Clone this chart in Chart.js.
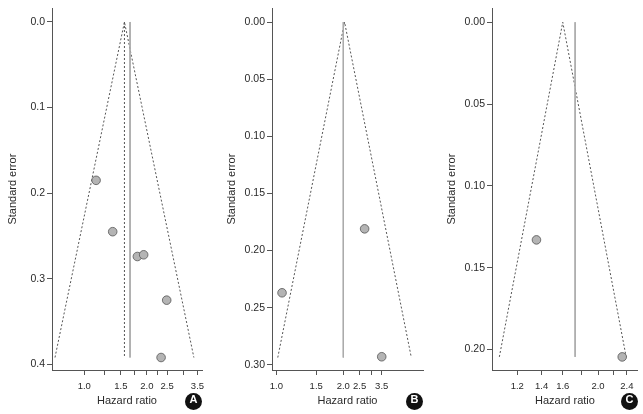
<!DOCTYPE html>
<html>
<head>
<meta charset="utf-8">
<script src="https://cdn.jsdelivr.net/npm/chart.js@4.4.1/dist/chart.umd.min.js"></script>
<style>
  html, body { margin: 0; padding: 0; background: #fff; }
  #wrap { position: relative; width: 643px; height: 414px; overflow: hidden; }
  .panel { position: absolute; top: 0; }
  .badge {
    position: absolute; width: 17px; height: 17px; border-radius: 50%;
    background: #111; color: #fff; text-align: center; line-height: 17px;
    font: bold 11px "Liberation Sans", Arial, sans-serif;
  }
</style>
</head>
<body>
<div id="wrap">
  <canvas class="panel" id="chartA" width="215" height="414" style="left:0"></canvas>
  <canvas class="panel" id="chartB" width="215" height="414" style="left:215px"></canvas>
  <canvas class="panel" id="chartC" width="213" height="414" style="left:430px"></canvas>
  <div class="badge" style="left:185px;top:393px">A</div>
  <div class="badge" style="left:406px;top:393px">B</div>
  <div class="badge" style="left:621px;top:393px">C</div>
</div>
<script>
// Panel A: hazard ratio and standard error of each study
const hrA = [1.14, 1.37, 1.80, 1.93, 2.49, 2.34];
const seA = [0.185, 0.245, 0.274, 0.272, 0.325, 0.392];
const centerA = 1.56;   // funnel centre (dotted line)
const summaryA = 1.66;  // solid line
const seMaxA = 0.392;
const xRangeA = [0.70, 3.68];
const yRangeA = [-0.016, 0.4066];
const xTicksA = [1.0, 1.25, 1.5, 1.75, 2.0, 2.25, 2.5, 3.0, 3.5];
const xLabelsA = ['1.0', '', '1.5', '', '2.0', '', '2.5', '', '3.5'];
const yTicksA = [0, 0.1, 0.2, 0.3, 0.4];

// Panel B
const hrB = [2.14, 1.05, 2.48];
const seB = [0.181, 0.237, 0.293];
const centerB = 1.80;
const summaryB = 1.78;
const seMaxB = 0.2937;
const xRangeB = [0.963, 3.54];
const yRangeB = [-0.0121, 0.3046];
const xTicksB = [1.0, 1.41, 1.78, 2.05, 2.27, 2.48];
const xLabelsB = ['1.0', '1.5', '2.0', '2.5', '', '3.5'];
const yTicksB = [0, 0.05, 0.10, 0.15, 0.20, 0.25, 0.30];

// Panel C
const hrC = [1.355, 2.33];
const seC = [0.133, 0.2045];
const centerC = 1.60;
const summaryC = 1.73;
const seMaxC = 0.2045;
const xRangeC = [1.023, 2.573];
const yRangeC = [-0.0085, 0.2125];
const xTicksC = [1.2, 1.4, 1.6, 1.8, 2.0, 2.2, 2.4];
const xLabelsC = ['1.2', '1.4', '1.6', '', '2.0', '', '2.4'];
const yTicksC = [0, 0.05, 0.10, 0.15, 0.20];

const FONT = '"Liberation Sans", Arial, Helvetica, sans-serif';
const AXIS = '#555';
const TEXT = '#2a2a2a';

function makePanel(id, p) {
    const ln = Math.log;
    const points = p.hr.map((h, i) => ({ x: ln(h), y: p.se[i] }));
    // pseudo 95% confidence limits
    const funnel = [
        { x: ln(p.center) - 1.96 * p.seMax, y: p.seMax },
        { x: ln(p.center), y: 0 },
        { x: ln(p.center) + 1.96 * p.seMax, y: p.seMax }
    ];
    const datasets = [
        {
            type: 'scatter', data: points, order: 0,
            pointRadius: 4.3, pointBackgroundColor: '#b4b4b4',
            pointBorderColor: '#555', pointBorderWidth: 0.8
        },
        {
            type: 'line', data: funnel, order: 2,
            borderColor: '#555', borderWidth: 1, borderDash: [2, 2],
            pointRadius: 0, fill: false, tension: 0
        },
        {
            type: 'line', data: [{ x: ln(p.summary), y: 0 }, { x: ln(p.summary), y: p.seMax }], order: 1,
            borderColor: '#aaa', borderWidth: 1, pointRadius: 0
        }
    ];
    if (p.dottedCenter) {
        datasets.push({
            type: 'line', data: [{ x: ln(p.center), y: 0 }, { x: ln(p.center), y: p.seMax }], order: 1,
            borderColor: '#555', borderWidth: 1, borderDash: [2, 2], pointRadius: 0
        });
    }

    return new Chart(document.getElementById(id), {
        type: 'scatter',
        data: { datasets: datasets },
        options: {
            responsive: false,
            animation: false,
            layout: { padding: { left: p.padLeft, right: p.padRight, top: 5, bottom: 6 } },
            plugins: { legend: { display: false }, tooltip: { enabled: false } },
            scales: {
                x: {
                    type: 'linear',
                    min: ln(p.xRange[0]), max: ln(p.xRange[1]),
                    afterBuildTicks: s => { s.ticks = p.xTicks.map(v => ({ value: ln(v) })); },
                    afterFit: s => { s.height = 38; },
                    ticks: {
                        autoSkip: false, maxRotation: 0, padding: 6, color: TEXT,
                        font: { family: FONT, size: 9.5 },
                        callback: (v, i) => p.xLabels[i]
                    },
                    grid: { drawOnChartArea: false, tickLength: 5, color: AXIS },
                    border: { color: AXIS },
                    title: { display: true, text: 'Hazard ratio', color: TEXT, padding: 0, font: { family: FONT, size: 11 } }
                },
                y: {
                    type: 'linear', reverse: true,
                    min: p.yRange[0], max: p.yRange[1],
                    afterBuildTicks: s => { s.ticks = p.yTicks.map(v => ({ value: v })); },
                    afterFit: s => { s.width = p.axisLeft - p.padLeft; },
                    ticks: {
                        padding: 2, color: TEXT,
                        font: { family: FONT, size: 10.5 },
                        callback: v => v.toFixed(p.decimals)
                    },
                    grid: { drawOnChartArea: false, tickLength: 5, color: AXIS },
                    border: { color: AXIS },
                    title: { display: true, text: 'Standard error', color: TEXT, padding: 0, font: { family: FONT, size: 11 } }
                }
            }
        }
    });
}

makePanel('chartA', {
    hr: hrA, se: seA, center: centerA, summary: summaryA, seMax: seMaxA, dottedCenter: true,
    xRange: xRangeA, yRange: yRangeA, xTicks: xTicksA, xLabels: xLabelsA, yTicks: yTicksA,
    decimals: 1, padLeft: 6, axisLeft: 52, padRight: 13
});
makePanel('chartB', {
    hr: hrB, se: seB, center: centerB, summary: summaryB, seMax: seMaxB, dottedCenter: false,
    xRange: xRangeB, yRange: yRangeB, xTicks: xTicksB, xLabels: xLabelsB, yTicks: yTicksB,
    decimals: 2, padLeft: 10, axisLeft: 57, padRight: 7
});
makePanel('chartC', {
    hr: hrC, se: seC, center: centerC, summary: summaryC, seMax: seMaxC, dottedCenter: false,
    xRange: xRangeC, yRange: yRangeC, xTicks: xTicksC, xLabels: xLabelsC, yTicks: yTicksC,
    decimals: 2, padLeft: 15, axisLeft: 62, padRight: 4
});
</script>
</body>
</html>
